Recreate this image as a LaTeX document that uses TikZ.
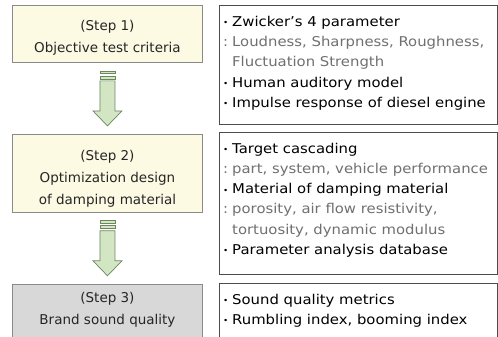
\documentclass[tikz,border=0pt]{standalone}
\usepackage{fontspec}
\setmainfont{DejaVu Sans}
\newfontfamily\listfont[FakeStretch=1.1]{DejaVu Sans}
\usepackage{xcolor}
\usetikzlibrary{positioning, calc}

\definecolor{stepfill}{HTML}{FCFAE3}
\definecolor{stepgray}{HTML}{D8D8D8}
\definecolor{stepline}{HTML}{8A8A8A}
\definecolor{arrowfill}{HTML}{D3E6C4}
\definecolor{arrowline}{HTML}{6C8660}
\definecolor{subtext}{HTML}{707070}

% bullet and indent for the right-hand lists
\newcommand{\itm}{\makebox[9pt][l]{\raisebox{0.5pt}{\fontsize{8}{8}\selectfont•}}}
\newcommand{\sub}[1]{{\color{subtext}\makebox[9pt][l]{:}#1}}
\newcommand{\subc}[1]{{\color{subtext}\hspace*{9pt}#1}}

\begin{document}
\begin{tikzpicture}[x=1pt, y=-1pt,
    stepbox/.style={rectangle, draw=stepline, line width=0.9pt, fill=stepfill, minimum width=190pt, inner sep=0pt, anchor=north west},
    steptext/.style={align=center, inner sep=0pt, text=black!85, font=\fontsize{13.5}{22}\selectfont},
    infobox/.style={rectangle, draw=black!70, line width=0.9pt, minimum width=278pt, inner sep=0pt, anchor=north west},
    infotext/.style={align=left, inner sep=0pt, anchor=north west, font=\listfont\fontsize{13.5}{20.2}\selectfont},
    fatarrow/.style={draw=arrowline, fill=arrowfill, line width=0.7pt},
]
\clip (0,0) rectangle (498,337);
\fill[white] (0,0) rectangle (498,337);

% Steps
\node[stepbox, minimum height=57pt] (s1) at (12,5) {};
\node[stepbox, minimum height=78pt, below=71pt of s1.south west, anchor=north west] (s2) {};
\node[stepbox, minimum height=54pt, fill=stepgray, below=71pt of s2.south west, anchor=north west] (s3) {};
\node[steptext] (t1) at ($(s1.center)+(0,3.5)$) {(Step 1)\\Objective test criteria};
\node[steptext] (t2) at ($(s2.center)+(0,5)$) {(Step 2)\\Optimization design\\of damping material};
\node[steptext] (t3) at ($(s3.center)+(0,-1)$) {(Step 3)\\Brand sound quality};

% Details
\node[infobox, minimum height=119pt] (i1) at (219,5) {};
\node[infobox, minimum height=142pt, below=7pt of i1.south west, anchor=north west] (i2) {};
\node[infobox, minimum height=58pt, below=8pt of i2.south west, anchor=north west] (i3) {};
\node[infotext] (l1) at ($(i1.north west)+(4,11)$) {
    \itm Zwicker’s 4 parameter\\
    \sub{Loudness, Sharpness, Roughness,}\\
    \subc{Fluctuation Strength}\\
    \itm Human auditory model\\
    \itm Impulse response of diesel engine
};
\node[infotext] (l2) at ($(i2.north west)+(4,11)$) {
    \itm Target cascading\\
    \sub{part, system, vehicle performance}\\
    \itm Material of damping material\\
    \sub{porosity, air flow resistivity,}\\
    \subc{tortuosity, dynamic modulus}\\
    \itm Parameter analysis database
};
\node[infotext] (l3) at ($(i3.north west)+(4,11)$) {
    \itm Sound quality metrics\\
    \itm Rumbling index, booming index
};

% Arrows between steps
\foreach \a/\b in {s1/s2, s2/s3} {
    \draw[fatarrow] ($(\a.south)+(-7.5,8)$) rectangle ($(\a.south)+(7.5,10.5)$);
    \draw[fatarrow] ($(\a.south)+(-7.5,13)$) rectangle ($(\a.south)+(7.5,16)$);
    \draw[fatarrow] ($(\a.south)+(-7.5,18)$) -- ($(\a.south)+(7.5,18)$) -- ($(\a.south)+(7.5,48)$)
        -- ($(\a.south)+(14.5,48)$) -- ($(\b.north)+(0,-8)$) -- ($(\a.south)+(-14.5,48)$)
        -- ($(\a.south)+(-7.5,48)$) -- cycle;
}

\end{tikzpicture}
\end{document}
